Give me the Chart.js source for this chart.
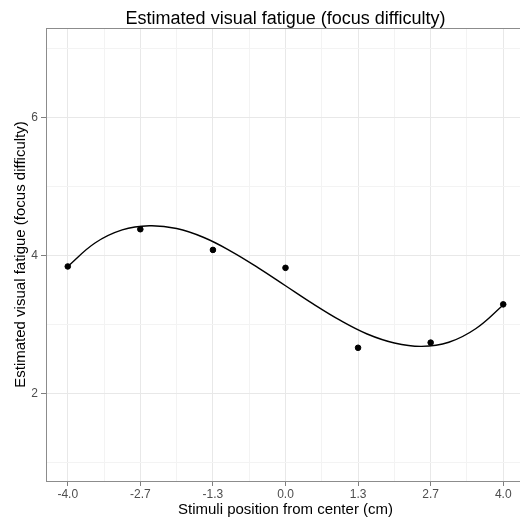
<!DOCTYPE html>
<html><head><meta charset="utf-8">
<script src="https://cdn.jsdelivr.net/npm/chart.js@4/dist/chart.umd.min.js"></script>
<style>html,body{margin:0;padding:0;background:#fff;overflow:hidden}#wrap{width:520px;height:521px;overflow:hidden}</style>
</head><body><div id="wrap"><canvas id="c" width="525" height="521"></canvas></div>
<script>
// Data
const stimulusX = [-4, -2.667, -1.333, 0, 1.333, 2.667, 4];
const xTickLabels = ['-4.0', '-2.7', '-1.3', '0.0', '1.3', '2.7', '4.0'];
const fatigue = [3.84, 4.38, 4.08, 3.82, 2.66, 2.735, 3.29];
const fitX = [-4, -3.5, -3, -2.5, -2, -1.5, -1, -0.5, 0, 0.5, 1, 1.5, 2, 2.5, 3, 3.5, 4];
const fitY = [3.84, 4.18, 4.37, 4.43, 4.39, 4.26, 4.06, 3.82, 3.56, 3.30, 3.06, 2.86, 2.73, 2.68, 2.74, 2.94, 3.28];
const yTickValues = [2, 4, 6];
const yMinorValues = [1, 3, 5, 7];
const titleText = 'Estimated visual fatigue (focus difficulty)';
const xTitle = 'Stimuli position from center (cm)';
const yTitle = 'Estimated visual fatigue (focus difficulty)';

const FONT = "'Liberation Sans', Arial, sans-serif";
const near = (a, b) => Math.abs(a - b) < 1e-3;
const isMajorX = v => stimulusX.some(s => near(s, v));
const isMajorY = v => yTickValues.some(s => near(s, v));

const xTicks = [];
stimulusX.forEach((v, i) => {
  xTicks.push(v);
  if (i < stimulusX.length - 1) xTicks.push((v + stimulusX[i + 1]) / 2);
});
const yTicks = [...yTickValues, ...yMinorValues].sort((a, b) => a - b);

const frame = {
  id: 'frame',
  beforeDatasetsDraw(chart) {
    const {ctx, chartArea} = chart;
    ctx.save();
    ctx.strokeStyle = '#8c8c8c';
    ctx.lineWidth = 1;
    ctx.beginPath();
    ctx.moveTo(chartArea.left, chartArea.top + 0.5);
    ctx.lineTo(chartArea.right, chartArea.top + 0.5);
    ctx.stroke();
    ctx.restore();
  },
  afterDraw(chart) {
    const {ctx} = chart;
    const cx = chart.scales.x.getPixelForValue(0);
    ctx.save();
    ctx.fillStyle = '#000';
    ctx.font = '18px ' + FONT;
    ctx.textAlign = 'center';
    ctx.textBaseline = 'alphabetic';
    ctx.fillText(titleText, cx, 24);
    ctx.restore();
  }
};

new Chart(document.getElementById('c'), {
  data: {
    datasets: [
      {
        type: 'line',
        data: fitX.map((x, i) => ({x, y: fitY[i]})),
        borderColor: '#000',
        borderWidth: 1.4,
        pointRadius: 0,
        tension: 0.4,
        fill: false,
        order: 2
      },
      {
        type: 'scatter',
        data: stimulusX.map((x, i) => ({x, y: fatigue[i]})),
        backgroundColor: '#000',
        borderColor: '#000',
        pointRadius: 2.8,
        pointHoverRadius: 2.8,
        order: 1
      }
    ]
  },
  options: {
    responsive: false,
    animation: false,
    devicePixelRatio: 1,
    layout: {autoPadding: false, padding: {top: 28, left: 0, right: 0, bottom: 0}},
    plugins: {legend: {display: false}, title: {display: false}, tooltip: {enabled: false}},
    scales: {
      x: {
        type: 'linear',
        min: -4.4,
        max: 4.4,
        afterBuildTicks: s => { s.ticks = xTicks.map(v => ({value: v})); },
        afterFit: s => { s.height = 40; },
        ticks: {
          autoSkip: false,
          maxRotation: 0,
          padding: 1,
          color: '#4d4d4d',
          font: {family: FONT, size: 12},
          callback: v => { const i = stimulusX.findIndex(s => near(s, v)); return i >= 0 ? xTickLabels[i] : ''; }
        },
        grid: {
          color: c => isMajorX(c.tick.value) ? '#e8e8e8' : '#f3f3f3',
          tickColor: c => isMajorX(c.tick.value) ? '#7f7f7f' : 'rgba(0,0,0,0)',
          tickLength: 5,
          lineWidth: 1
        },
        border: {display: true, color: '#8c8c8c', width: 1},
        title: {display: true, text: xTitle, color: '#000', font: {family: FONT, size: 15}, padding: {top: 0, bottom: 2}}
      },
      y: {
        type: 'linear',
        min: 0.727,
        max: 7.30,
        afterBuildTicks: s => { s.ticks = yTicks.map(v => ({value: v})); },
        afterFit: s => { s.width = 46; },
        ticks: {
          autoSkip: false,
          padding: 3,
          color: '#4d4d4d',
          font: {family: FONT, size: 12},
          callback: v => isMajorY(v) ? String(v) : ''
        },
        grid: {
          color: c => isMajorY(c.tick.value) ? '#e8e8e8' : '#f3f3f3',
          tickColor: c => isMajorY(c.tick.value) ? '#7f7f7f' : 'rgba(0,0,0,0)',
          tickLength: 5,
          lineWidth: 1
        },
        border: {display: true, color: '#8c8c8c', width: 1},
        title: {display: true, text: yTitle, color: '#000', font: {family: FONT, size: 15}, padding: {top: 12, bottom: 0}}
      }
    }
  },
  plugins: [frame]
});
</script>
</body></html>
